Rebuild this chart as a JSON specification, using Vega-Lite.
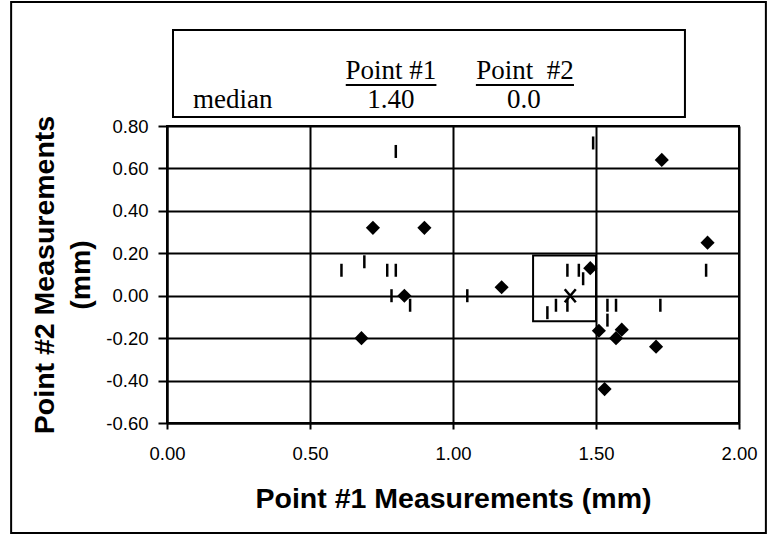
{
  "$schema": "https://vega.github.io/schema/vega-lite/v6.json",
  "width": 572,
  "height": 297,
  "autosize": "none",
  "padding": {"left": 167, "top": 126, "right": 31, "bottom": 112},
  "background": "white",
  "config": {
    "view": {"stroke": "black", "strokeWidth": 2},
    "axis": {
      "grid": true,
      "labelFont": "Liberation Sans",
      "labelFontSize": 18.5,
      "labelColor": "black",
      "labelFlush": false,
      "domainColor": "black",
      "domainWidth": 2,
      "tickColor": "black",
      "tickWidth": 2,
      "gridColor": "black",
      "gridWidth": 2,
      "gridOpacity": 1,
      "titleFont": "Liberation Sans",
      "titleFontSize": 28.5,
      "titleFontWeight": "bold",
      "titleColor": "black"
    }
  },
  "datasets": {
    "diamonds": [
      {"x": 0.72, "y": 0.32},
      {"x": 0.90, "y": 0.32},
      {"x": 0.83, "y": 0.0},
      {"x": 0.68, "y": -0.20},
      {"x": 1.73, "y": 0.64},
      {"x": 1.89, "y": 0.25},
      {"x": 1.48, "y": 0.13},
      {"x": 1.17, "y": 0.04},
      {"x": 1.51, "y": -0.165},
      {"x": 1.59, "y": -0.16},
      {"x": 1.57, "y": -0.20},
      {"x": 1.71, "y": -0.24},
      {"x": 1.53, "y": -0.44}
    ],
    "bars": [
      {"x": 0.80, "y": 0.68},
      {"x": 0.61, "y": 0.12},
      {"x": 0.69, "y": 0.16},
      {"x": 0.77, "y": 0.12},
      {"x": 0.80, "y": 0.12},
      {"x": 0.785, "y": 0.0},
      {"x": 0.85, "y": -0.045},
      {"x": 1.49, "y": 0.72},
      {"x": 1.05, "y": 0.0},
      {"x": 1.40, "y": 0.12},
      {"x": 1.44, "y": 0.12},
      {"x": 1.455, "y": 0.08},
      {"x": 1.33, "y": -0.08},
      {"x": 1.36, "y": -0.045},
      {"x": 1.40, "y": -0.045},
      {"x": 1.54, "y": -0.045},
      {"x": 1.57, "y": -0.045},
      {"x": 1.54, "y": -0.115},
      {"x": 1.725, "y": -0.045},
      {"x": 1.885, "y": 0.12}
    ],
    "median": [{"x": 1.41, "y": 0.0}],
    "quartiles": [{"x1": 1.28, "x2": 1.50, "y1": -0.12, "y2": 0.19}],
    "one": [{}]
  },
  "layer": [
    {
      "data": {"name": "one"},
      "mark": {"type": "rect", "filled": false, "stroke": "black", "strokeWidth": 2},
      "encoding": {
        "x": {"datum": -0.545, "scale": {"domain": [0, 2], "nice": false, "zero": false}},
        "x2": {"datum": 2.094},
        "y": {"datum": 1.385, "scale": {"domain": [-0.6, 0.8], "nice": false, "zero": false}},
        "y2": {"datum": -1.118}
      }
    },
    {
      "data": {"name": "diamonds"},
      "mark": {"type": "point", "shape": "diamond", "filled": true, "color": "black", "size": 200, "opacity": 1},
      "encoding": {
        "x": {
          "field": "x", "type": "quantitative",
          "scale": {"domain": [0, 2], "nice": false, "zero": false},
          "axis": {
            "grid": true,
            "values": [0, 0.5, 1, 1.5, 2],
            "format": ".2f",
            "title": "Point #1 Measurements (mm)",
            "tickSize": 6,
            "labelPadding": 15,
            "titlePadding": 22
          }
        },
        "y": {
          "field": "y", "type": "quantitative",
          "scale": {"domain": [-0.6, 0.8], "nice": false, "zero": false},
          "axis": {
            "grid": true,
            "values": [-0.6, -0.4, -0.2, 0, 0.2, 0.4, 0.6, 0.8],
            "labelExpr": "replace(format(datum.value, '.2f'), '−', '-')",
            "title": ["Point #2 Measurements", "(mm)"],
            "titleLineHeight": 36,
            "tickSize": 9,
            "labelPadding": 10,
            "titlePadding": 10
          }
        }
      }
    },
    {
      "data": {"name": "bars"},
      "mark": {"type": "tick", "orient": "vertical", "color": "black", "size": 13, "thickness": 2.5, "opacity": 1},
      "encoding": {
        "x": {"field": "x", "type": "quantitative"},
        "y": {"field": "y", "type": "quantitative"}
      }
    },
    {
      "data": {"name": "quartiles"},
      "mark": {"type": "rect", "filled": false, "stroke": "black", "strokeWidth": 2},
      "encoding": {
        "x": {"field": "x1", "type": "quantitative"},
        "x2": {"field": "x2"},
        "y": {"field": "y1", "type": "quantitative"},
        "y2": {"field": "y2"}
      }
    },
    {
      "data": {"name": "median"},
      "mark": {"type": "point", "shape": "M-0.85,-1L0.85,1M-0.85,1L0.85,-1", "filled": false, "stroke": "black", "strokeWidth": 2.5, "size": 169, "opacity": 1},
      "encoding": {
        "x": {"field": "x", "type": "quantitative"},
        "y": {"field": "y", "type": "quantitative"}
      }
    },
    {
      "data": {"name": "one"},
      "mark": {"type": "rect", "fill": "white", "stroke": "black", "strokeWidth": 2},
      "encoding": {
        "x": {"datum": 0.021},
        "x2": {"datum": 1.811},
        "y": {"datum": 1.253},
        "y2": {"datum": 0.842}
      }
    },
    {
      "data": {"name": "one"},
      "mark": {"type": "text", "text": "Point #1", "font": "Liberation Serif", "fontSize": 27, "color": "black", "align": "center", "baseline": "alphabetic"},
      "encoding": {"x": {"datum": 0.783}, "y": {"datum": 1.0215}}
    },
    {
      "data": {"name": "one"},
      "mark": {"type": "text", "text": "Point\u00a0 #2", "font": "Liberation Serif", "fontSize": 27, "color": "black", "align": "center", "baseline": "alphabetic"},
      "encoding": {"x": {"datum": 1.252}, "y": {"datum": 1.0215}}
    },
    {
      "data": {"name": "one"},
      "mark": {"type": "rule", "color": "black", "strokeWidth": 2},
      "encoding": {"x": {"datum": 0.625}, "x2": {"datum": 0.942}, "y": {"datum": 0.993}}
    },
    {
      "data": {"name": "one"},
      "mark": {"type": "rule", "color": "black", "strokeWidth": 2},
      "encoding": {"x": {"datum": 1.080}, "x2": {"datum": 1.423}, "y": {"datum": 0.993}}
    },
    {
      "data": {"name": "one"},
      "mark": {"type": "text", "text": "median", "font": "Liberation Serif", "fontSize": 27, "color": "black", "align": "left", "baseline": "alphabetic"},
      "encoding": {"x": {"datum": 0.091}, "y": {"datum": 0.885}}
    },
    {
      "data": {"name": "one"},
      "mark": {"type": "text", "text": "1.40", "font": "Liberation Serif", "fontSize": 27, "color": "black", "align": "center", "baseline": "alphabetic"},
      "encoding": {"x": {"datum": 0.783}, "y": {"datum": 0.885}}
    },
    {
      "data": {"name": "one"},
      "mark": {"type": "text", "text": "0.0", "font": "Liberation Serif", "fontSize": 27, "color": "black", "align": "center", "baseline": "alphabetic"},
      "encoding": {"x": {"datum": 1.248}, "y": {"datum": 0.885}}
    }
  ]
}
